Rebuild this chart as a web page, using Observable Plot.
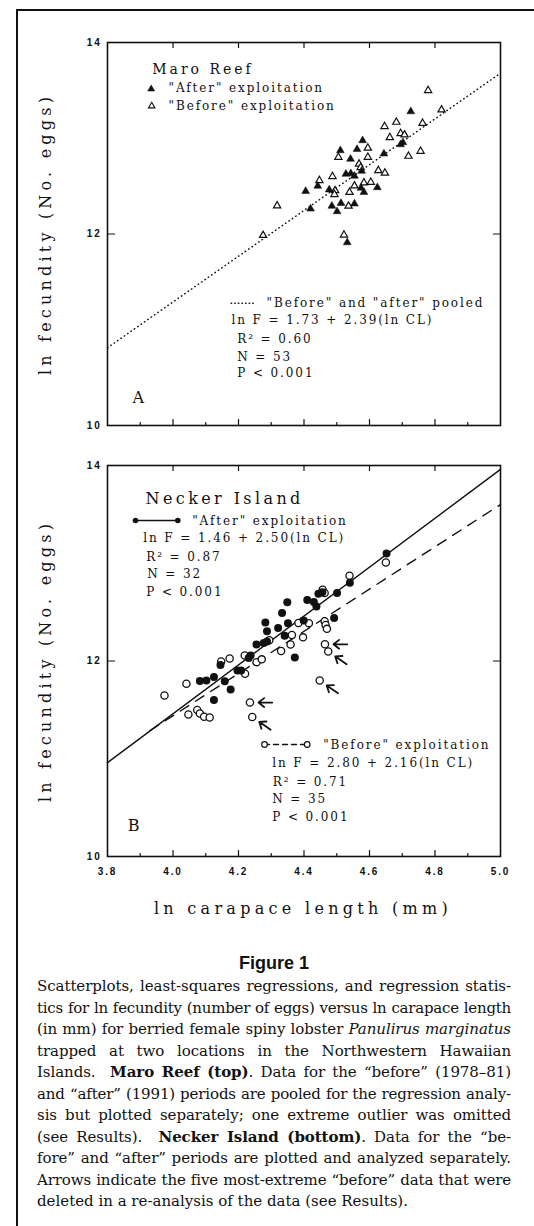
<!DOCTYPE html>
<html><head><meta charset="utf-8">
<script src="https://cdn.jsdelivr.net/npm/d3@7"></script>
<script src="https://cdn.jsdelivr.net/npm/@observablehq/plot@0.6"></script>
<style>
html,body{margin:0;padding:0;background:#fff;}
body{width:534px;height:1226px;position:relative;overflow:hidden;color:#111;}
#border{position:absolute;left:16px;top:9px;right:-10px;bottom:-10px;border-top:2px solid #111;border-left:2px solid #111;}
#panelA{position:absolute;left:0;top:0;}
#panelB{position:absolute;left:0;top:430px;}
#figtitle{position:absolute;left:0;width:548px;text-align:center;top:953px;font:bold 18px "Liberation Sans";line-height:20px;}
#caption{position:absolute;left:37px;width:474px;top:976px;font-family:"DejaVu Serif";font-size:14px;line-height:21.5px;}
#caption div{text-align:justify;text-align-last:justify;}
#caption div.last{text-align-last:left;}
</style>
</head><body>
<div id="border"></div>
<div id="panelA"></div>
<div id="panelB"></div>
<div id="figtitle">Figure 1</div>
<div id="caption">
<div>Scatterplots, least-squares regressions, and regression statis-</div>
<div>tics for ln fecundity (number of eggs) versus ln carapace length</div>
<div>(in mm) for berried female spiny lobster <i>Panulirus marginatus</i></div>
<div>trapped at two locations in the Northwestern Hawaiian</div>
<div>Islands.&nbsp; <b>Maro Reef (top)</b>. Data for the “before” (1978–81)</div>
<div>and “after” (1991) periods are pooled for the regression analy-</div>
<div>sis but plotted separately; one extreme outlier was omitted</div>
<div>(see Results).&nbsp; <b>Necker Island (bottom)</b>. Data for the “be-</div>
<div>fore” and “after” periods are plotted and analyzed separately.</div>
<div>Arrows indicate the five most-extreme “before” data that were</div>
<div class="last">deleted in a re-analysis of the data (see Results).</div>
</div>
<script>
// ---------- data ----------
const xTicks = [3.8, 4.0, 4.2, 4.4, 4.6, 4.8, 5.0];
const xInnerTicks = [4.0, 4.2, 4.4, 4.6, 4.8];
const xMinorTicks = [3.9, 4.1, 4.3, 4.5, 4.7, 4.9];
const yTicks = [10, 12, 14];
const yInnerTicks = [12];

// Maro Reef (panel A): [ln CL, ln F]
const maroAfter = [
  [4.405,12.447],[4.420,12.263],[4.442,12.501],[4.477,12.462],[4.485,12.292],[4.501,12.235],
  [4.513,12.322],[4.554,12.316],[4.511,12.872],[4.542,12.783],[4.562,12.885],[4.579,12.977],
  [4.528,12.627],[4.543,12.632],[4.554,12.606],[4.576,12.658],[4.574,12.480],[4.583,12.437],
  [4.624,12.486],[4.644,12.838],[4.532,11.911],[4.695,12.935],[4.702,12.956],[4.726,13.279]
];
const maroBefore = [
  [4.275,11.986],[4.318,12.295],[4.447,12.559],[4.487,12.601],[4.495,12.454],[4.493,12.413],
  [4.505,12.802],[4.522,11.990],[4.536,12.292],[4.539,12.436],[4.554,12.503],[4.568,12.731],
  [4.573,12.695],[4.583,12.535],[4.604,12.541],[4.595,12.898],[4.595,12.802],[4.627,12.663],
  [4.647,12.637],[4.646,13.123],[4.682,13.168],[4.662,13.008],[4.695,13.050],[4.707,13.036],
  [4.719,12.813],[4.756,12.865],[4.762,13.157],[4.820,13.297],[4.779,13.499]
];
// Necker Island (panel B)
const neckerAfter = [
  [4.082,11.795],[4.102,11.800],[4.125,11.836],[4.125,11.601],[4.145,11.959],[4.158,11.793],
  [4.176,11.708],[4.197,11.903],[4.208,11.903],[4.231,12.031],[4.237,12.056],[4.255,12.169],
  [4.277,12.184],[4.287,12.200],[4.282,12.394],[4.287,12.305],[4.321,12.338],[4.333,12.491],
  [4.341,12.258],[4.349,12.602],[4.351,12.387],[4.372,12.036],[4.399,12.414],[4.410,12.624],
  [4.430,12.604],[4.438,12.558],[4.444,12.687],[4.456,12.704],[4.492,12.440],[4.501,12.696],
  [4.540,12.800],[4.652,13.100]
];
const neckerBefore = [
  [3.974,11.647],[4.041,11.767],[4.047,11.453],[4.074,11.499],[4.082,11.463],[4.095,11.429],
  [4.112,11.422],[4.147,11.995],[4.173,12.026],[4.219,12.056],[4.220,11.869],[4.255,11.988],
  [4.271,12.017],[4.294,12.213],[4.330,12.102],[4.359,12.169],[4.363,12.266],[4.383,12.389],
  [4.397,12.242],[4.415,12.387],[4.457,12.729],[4.463,12.696],[4.463,12.406],[4.466,12.368],
  [4.470,12.329],[4.464,12.171],[4.474,12.097],[4.448,11.800],[4.235,11.575],[4.242,11.427],
  [4.539,12.872],[4.650,13.008]
];
// the five deleted "before" points (index into neckerBefore) and arrow direction
const deletedB = [[25,"left"],[26,"upleft"],[27,"upleft"],[28,"left"],[29,"upleft"]];

// regression equations ln F = a + b ln CL, and x extent drawn
const regPooledA = {a:1.73, b:2.39, from:3.8, to:5.0};
const regAfterB  = {a:1.46, b:2.50, from:3.8, to:5.0};
const regBeforeB = {a:2.80, b:2.16, from:3.93, to:5.0};

// ---------- helpers ----------
const INK = "#111";
const regLine = r => [r.from, r.to].map(x => ({x, y: r.a + r.b * x}));
const seg = {draw(ctx, l) { ctx.moveTo(0, 0); ctx.lineTo(0, -l); }};
const label = (text, dx, dy, o = {}) => Plot.text([text], {
  text: d => d, frameAnchor: "top-left", dx, dy, textAnchor: "start", lineAnchor: "bottom",
  fontSize: 12, fill: INK, ariaDescription: "ls:" + (o.ls ?? 1.9), ...o
});
function frameTicks() {
  const base = {anchor: "start", shape: seg, stroke: INK, strokeWidth: 1.2};
  return [
    Plot.vector(xInnerTicks, {...base, x: d => d, y: () => 10, length: 6, rotate: 0}),
    Plot.vector(xMinorTicks, {...base, x: d => d, y: () => 10, length: 3, rotate: 0}),
    Plot.vector(xInnerTicks, {...base, x: d => d, y: () => 14, length: 5, rotate: 180}),
    Plot.vector(yInnerTicks, {...base, x: () => 3.8, y: d => d, length: 7, rotate: 90}),
    Plot.vector(yInnerTicks, {...base, x: () => 5.0, y: d => d, length: 7, rotate: 270})
  ];
}
const tickFont = {fontFamily: "Liberation Sans", fontWeight: "bold", fontSize: 10, fill: INK};
const yTitle = Plot.text(["ln fecundity (No. eggs)"], {
  text: d => d, frameAnchor: "left", rotate: -90, dx: -57, textAnchor: "middle", lineAnchor: "bottom",
  fontSize: 16, fill: INK, ariaDescription: "ls:4.2"
});
function spacing(svg) {
  d3.select(svg).selectAll("g[aria-description]").each(function () {
    const m = /ls:([\d.]+)/.exec(this.getAttribute("aria-description"));
    if (m) this.setAttribute("letter-spacing", m[1]);
  });
  d3.select(svg).selectAll('g[aria-label="x-axis tick label"], g[aria-label="y-axis tick label"]')
    .attr("letter-spacing", 1.8);
  return svg;
}

// ---------- panel A ----------
const plotA = Plot.plot({
  width: 534, height: 440, marginTop: 42, marginBottom: 15, marginLeft: 107, marginRight: 34,
  x: {domain: [3.8, 5.0], axis: null}, y: {domain: [10, 14]},
  style: {fontFamily: "DejaVu Serif", background: "transparent", color: INK},
  marks: [
    Plot.frame({stroke: INK, strokeWidth: 1.6}),
    ...frameTicks(),
    Plot.axisY({ticks: yTicks, tickSize: 0, tickPadding: 6, label: null, tickFormat: d3.format("d"), ...tickFont}),
    yTitle,
    Plot.line(regLine(regPooledA), {x: "x", y: "y", stroke: INK, strokeWidth: 1.5,
      strokeDasharray: "0.4,3.7", strokeLinecap: "round"}),
    Plot.dot(maroBefore, {x: d => d[0], y: d => d[1], symbol: "triangle", r: 2.7,
      stroke: INK, fill: "white", strokeWidth: 1.2}),
    Plot.dot(maroAfter, {x: d => d[0], y: d => d[1], symbol: "triangle", r: 2.9,
      stroke: INK, fill: INK, strokeWidth: 0.5}),
    label("Maro Reef", 44.7, 31, {fontSize: 14, ls: 3}),
    Plot.dot([0], {frameAnchor: "top-left", dx: 43.7, dy: 46.5, symbol: "triangle", r: 2.6,
      fill: INK, stroke: INK, strokeWidth: 0.5}),
    label('"After" exploitation', 61, 49.7),
    Plot.dot([0], {frameAnchor: "top-left", dx: 44.2, dy: 63.5, symbol: "triangle", r: 2.4,
      fill: "white", stroke: INK, strokeWidth: 1.1}),
    label('"Before" exploitation', 61, 67.3),
    Plot.vector([0], {frameAnchor: "top-left", dx: 123.7, dy: 260.7, length: 23, rotate: 90,
      anchor: "start", shape: seg, stroke: INK, strokeWidth: 1.5, strokeDasharray: "0.4,3.2",
      strokeLinecap: "round"}),
    label('"Before" and "after" pooled', 159, 264.7),
    label("ln F = 1.73 + 2.39(ln CL)", 124, 281.3),
    label("R² = 0.60", 129.7, 300.7),
    label("N = 53", 129.7, 318),
    label("P < 0.001", 129.7, 334),
    label("A", 25, 360.7, {fontSize: 16, ls: 0})
  ]
});
document.getElementById("panelA").append(spacing(plotA));

// ---------- panel B ----------
const arrowDir = {left: [0.068, 0], upleft: [0.056, -0.13]};
const arrowsB = deletedB.map(([i, dir]) => ({x: neckerBefore[i][0], y: neckerBefore[i][1], dir}));

const plotB = Plot.plot({
  width: 534, height: 500, marginTop: 35, marginBottom: 74, marginLeft: 107, marginRight: 34,
  x: {domain: [3.8, 5.0]}, y: {domain: [10, 14]},
  style: {fontFamily: "DejaVu Serif", background: "transparent", color: INK},
  marks: [
    Plot.frame({stroke: INK, strokeWidth: 1.6}),
    ...frameTicks(),
    Plot.axisY({ticks: yTicks, tickSize: 0, tickPadding: 6, label: null, tickFormat: d3.format("d"), ...tickFont}),
    Plot.axisX({ticks: xTicks, tickSize: 0, tickPadding: 11, label: null,
      tickFormat: d3.format(".1f"), ...tickFont}),
    yTitle,
    Plot.text(["ln carapace length (mm)"], {text: d => d, frameAnchor: "bottom", dy: 57.3, dx: -1,
      textAnchor: "middle", lineAnchor: "bottom", fontSize: 16, fill: INK, ariaDescription: "ls:4.3"}),
    Plot.line(regLine(regAfterB), {x: "x", y: "y", stroke: INK, strokeWidth: 1.4}),
    Plot.line(regLine(regBeforeB), {x: "x", y: "y", stroke: INK, strokeWidth: 1.4,
      strokeDasharray: "10,8"}),
    Plot.dot(neckerBefore, {x: d => d[0], y: d => d[1], r: 3.6, stroke: INK, fill: "white",
      strokeWidth: 1.3}),
    Plot.dot(neckerAfter, {x: d => d[0], y: d => d[1], r: 4, fill: INK}),
    Plot.arrow(arrowsB, {
      x1: d => d.x + arrowDir[d.dir][0], y1: d => d.y + arrowDir[d.dir][1], x2: "x", y2: "y",
      insetEnd: 8.5, headLength: 6, headAngle: 75, stroke: INK, strokeWidth: 1.8
    }),
    label("Necker Island", 38, 38.3, {fontSize: 16, ls: 3.4}),
    Plot.vector([0], {frameAnchor: "top-left", dx: 28, dy: 55, length: 42, rotate: 90,
      anchor: "start", shape: seg, stroke: INK, strokeWidth: 1.5}),
    Plot.dot([0], {frameAnchor: "top-left", dx: 28, dy: 55, r: 2.8, fill: INK}),
    Plot.dot([0], {frameAnchor: "top-left", dx: 70.3, dy: 55, r: 2.8, fill: INK}),
    label('"After" exploitation', 84.7, 59),
    label("ln F = 1.46 + 2.50(ln CL)", 35.7, 76.7),
    label("R² = 0.87", 38.7, 95.7),
    label("N = 32", 39.7, 112.7),
    label("P < 0.001", 38.7, 130),
    Plot.vector([0], {frameAnchor: "top-left", dx: 157, dy: 279, length: 42.7, rotate: 90,
      anchor: "start", shape: seg, stroke: INK, strokeWidth: 1.4, strokeDasharray: "5,4"}),
    Plot.dot([0], {frameAnchor: "top-left", dx: 157, dy: 279, r: 2.8, fill: "white", stroke: INK,
      strokeWidth: 1.2}),
    Plot.dot([0], {frameAnchor: "top-left", dx: 199.7, dy: 279, r: 2.8, fill: "white", stroke: INK,
      strokeWidth: 1.2}),
    label('"Before" exploitation', 215.7, 283.3),
    label("ln F = 2.80 + 2.16(ln CL)", 164.7, 301),
    label("R² = 0.71", 165.3, 320),
    label("N = 35", 164.7, 337.7),
    label("P < 0.001", 164.7, 355),
    label("B", 20.3, 365, {fontSize: 16, ls: 0})
  ]
});
document.getElementById("panelB").append(spacing(plotB));

// ---------- caption fitting: last line ~371px natural, others justified to 474px ----------
(function fitCaption() {
  const cap = document.getElementById("caption");
  const lines = [...cap.children];
  lines.forEach(div => { div.innerHTML = '<span style="white-space:nowrap">' + div.innerHTML + "</span>"; });
  const last = lines[lines.length - 1].firstChild;
  let fs = 14;
  cap.style.fontSize = fs + "px";
  fs = fs * 371 / last.getBoundingClientRect().width;
  cap.style.fontSize = fs.toFixed(2) + "px";
  lines.forEach(div => {
    const sp = div.firstChild;
    const nw = sp.getBoundingClientRect().width;
    if (nw > 470) sp.style.letterSpacing = ((470 - nw) / sp.textContent.length).toFixed(3) + "px";
  });
})();
</script>
</body></html>
